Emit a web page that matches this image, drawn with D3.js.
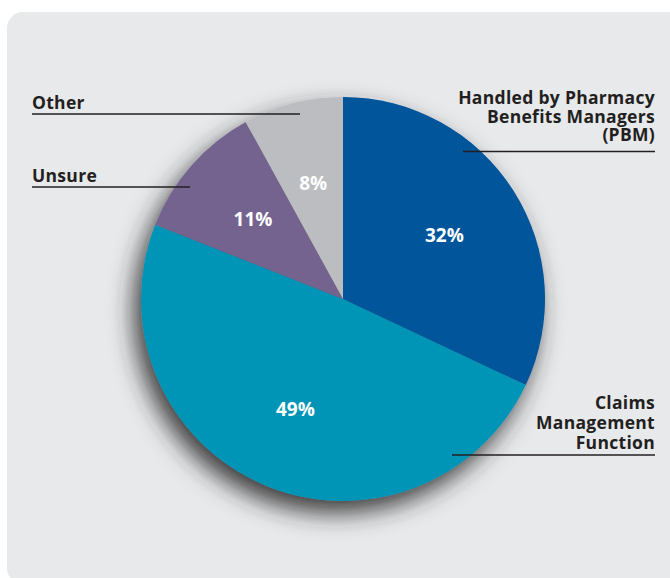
<!DOCTYPE html>
<html>
<head>
<meta charset="utf-8">
<script src="https://cdn.jsdelivr.net/npm/d3@7"></script>
<style>
  html, body { margin: 0; padding: 0; background: #ffffff; }
  svg { display: block; }
  text { font-family: "Open Sans", "Noto Sans", sans-serif; }
</style>
</head>
<body>
<svg id="chart" width="670" height="578"></svg>
<script>
// Share of respondents by how specialty pharmacy claims are handled
const categories = ["Handled by Pharmacy Benefits Managers (PBM)", "Claims Management Function", "Unsure", "Other"];
const values = [32, 49, 11, 8];
const labelLines = [
  ["Handled by Pharmacy", "Benefits Managers", "(PBM)"],
  ["Claims", "Management", "Function"],
  ["Unsure"],
  ["Other"]
];
const sliceColors = ["#00549b", "#0094b6", "#75648f", "#bbbdc1"];

const svg = d3.select("#chart");

// panel
svg.append("rect")
  .attr("x", 7).attr("y", 12)
  .attr("width", 680).attr("height", 572)
  .attr("rx", 16).attr("ry", 16)
  .attr("fill", "#e8e9eb");

// soft drop shadow under the pie
const defs = svg.append("defs");
const f = defs.append("filter").attr("id", "pieShadow")
  .attr("x", "-30%").attr("y", "-30%").attr("width", "160%").attr("height", "160%");
f.append("feDropShadow")
  .attr("dx", -7).attr("dy", 12)
  .attr("stdDeviation", 12)
  .attr("flood-color", "#262626")
  .attr("flood-opacity", 0.9);

const cx = 343, cy = 299, R = 202;
const pie = d3.pie().sort(null).value(d => d);
const arcs = pie(values);
const arc = d3.arc().innerRadius(0).outerRadius(R);
const labelArc = d3.arc().innerRadius(120).outerRadius(120);

const g = svg.append("g").attr("transform", `translate(${cx},${cy})`);
const slices = g.append("g").attr("filter", "url(#pieShadow)");
slices.selectAll("path")
  .data(arcs)
  .join("path")
  .attr("d", arc)
  .attr("fill", (d, i) => sliceColors[i]);

// percentage labels
g.selectAll("text.pct")
  .data(arcs)
  .join("text")
  .attr("class", "pct")
  .attr("transform", d => `translate(${labelArc.centroid(d)})`)
  .attr("text-anchor", "middle")
  .attr("dy", "0.36em")
  .attr("fill", "#ffffff")
  .attr("font-weight", 700)
  .attr("font-size", 19)
  .text(d => d.data + "%");

// outer category labels with rule lines
const outer = [
  { anchor: "end",   x: 655, y: 104, lh: 18.5, lineY: 151.5, x1: 463, x2: 655 },
  { anchor: "end",   x: 655, y: 409, lh: 20,   lineY: 455,   x1: 452, x2: 655 },
  { anchor: "start", x: 32,  y: 182, lh: 18,   lineY: 187,   x1: 32,  x2: 190 },
  { anchor: "start", x: 32,  y: 109, lh: 18,   lineY: 114,   x1: 32,  x2: 300 }
];

const lab = svg.append("g");
outer.forEach((o, i) => {
  const t = lab.append("text")
    .attr("text-anchor", o.anchor)
    .attr("fill", "#231f20")
    .attr("font-weight", 700)
    .attr("font-size", 17.5)
    .attr("letter-spacing", 0.3);
  labelLines[i].forEach((line, k) => {
    t.append("tspan").attr("x", o.x).attr("y", o.y + k * o.lh).text(line);
  });
  lab.append("line")
    .attr("x1", o.x1).attr("x2", o.x2)
    .attr("y1", o.lineY).attr("y2", o.lineY)
    .attr("stroke", "#231f20")
    .attr("stroke-width", 1.5);
});
</script>
</body>
</html>
